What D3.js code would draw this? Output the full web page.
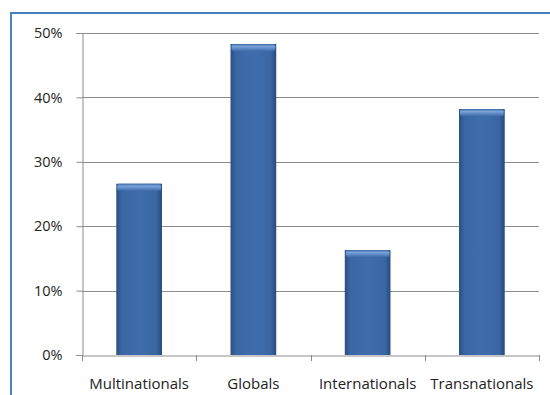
<!DOCTYPE html>
<html>
<head>
<meta charset="utf-8">
<script src="https://cdn.jsdelivr.net/npm/d3@7"></script>
<style>
  html, body { margin: 0; padding: 0; background: #fff; }
  svg { display: block; }
  text { font-family: "Open Sans", "DejaVu Sans", sans-serif; fill: #222; }
</style>
</head>
<body>
<svg id="chart" width="550" height="395"></svg>
<script>
// Share of respondents by company type
const categories = ["Multinationals", "Globals", "Internationals", "Transnationals"];
const shares = [0.266, 0.483, 0.163, 0.382];
const yTicks = [0, 0.1, 0.2, 0.3, 0.4, 0.5];

const plot = { left: 82, right: 539, top: 33, bottom: 355 };
const FONT = "'Open Sans', 'DejaVu Sans', sans-serif";

const svg = d3.select("#chart");

// Chart frame
svg.append("rect")
  .attr("x", 11).attr("y", 13)
  .attr("width", 600).attr("height", 420)
  .attr("fill", "#fff")
  .attr("stroke", "#4a7fc1")
  .attr("stroke-width", 2);

const x = d3.scaleBand()
  .domain(categories)
  .range([plot.left, plot.right])
  .paddingInner(0.6)
  .paddingOuter(0.3);

const y = d3.scaleLinear()
  .domain([0, 0.5])
  .range([plot.bottom, plot.top]);

// Gradients for the bevelled bars
const defs = svg.append("defs");
const side = defs.append("linearGradient").attr("id", "barSide")
  .attr("x1", "0").attr("x2", "1").attr("y1", "0").attr("y2", "0");
[[0, "#294f82"], [0.12, "#3a66a3"], [0.5, "#3f6dac"], [0.88, "#3a66a3"], [1, "#264b7c"]]
  .forEach(([o, c]) => side.append("stop").attr("offset", o).attr("stop-color", c));
const cap = defs.append("linearGradient").attr("id", "barCap")
  .attr("x1", "0").attr("x2", "0").attr("y1", "0").attr("y2", "1");
[[0, "#3d67a3"], [0.35, "#7aa3da"], [1, "#3f6dac"]]
  .forEach(([o, c]) => cap.append("stop").attr("offset", o).attr("stop-color", c));

// Gridlines
svg.append("g")
  .selectAll("line")
  .data(yTicks.filter(d => d > 0))
  .join("line")
  .attr("x1", plot.left).attr("x2", plot.right)
  .attr("y1", d => Math.round(y(d)) + 0.5).attr("y2", d => Math.round(y(d)) + 0.5)
  .attr("stroke", "#8c8c8c").attr("stroke-width", 1);

// Y axis
const yAxis = svg.append("g")
  .attr("transform", `translate(${plot.left + 0.5},0)`)
  .call(d3.axisLeft(y).tickValues(yTicks).tickFormat(d3.format(".0%")).tickSize(6).tickPadding(14));
yAxis.select(".domain").attr("stroke", "#8c8c8c");
yAxis.selectAll(".tick line").attr("stroke", "#8c8c8c");
yAxis.selectAll(".tick text").attr("font-size", 14.5).attr("fill", "#222")
  .attr("font-family", FONT);

// Bars
const bars = svg.append("g").selectAll("g")
  .data(categories.map((c, i) => ({ c, v: shares[i] })))
  .join("g");
bars.append("rect")
  .attr("x", d => x(d.c))
  .attr("y", d => y(d.v))
  .attr("width", x.bandwidth())
  .attr("height", d => plot.bottom - y(d.v))
  .attr("fill", "url(#barSide)");
bars.append("rect")
  .attr("x", d => x(d.c) + 1)
  .attr("y", d => y(d.v))
  .attr("width", x.bandwidth() - 2)
  .attr("height", 7)
  .attr("rx", 2)
  .attr("fill", "url(#barCap)");

// X axis
const xAxis = svg.append("g")
  .attr("transform", `translate(0,${plot.bottom + 0.5})`)
  .call(d3.axisBottom(x).tickSize(0).tickPadding(23));
xAxis.select(".domain").attr("stroke", "#8c8c8c");
xAxis.selectAll(".tick text").attr("font-size", 15).attr("fill", "#222")
  .attr("font-family", FONT);

// Category boundary ticks
const bounds = d3.range(categories.length + 1)
  .map(i => plot.left + i * (plot.right - plot.left) / categories.length);
svg.append("g").selectAll("line")
  .data(bounds)
  .join("line")
  .attr("x1", d => Math.round(d) + 0.5).attr("x2", d => Math.round(d) + 0.5)
  .attr("y1", plot.bottom).attr("y2", plot.bottom + 6)
  .attr("stroke", "#8c8c8c");
</script>
</body>
</html>
